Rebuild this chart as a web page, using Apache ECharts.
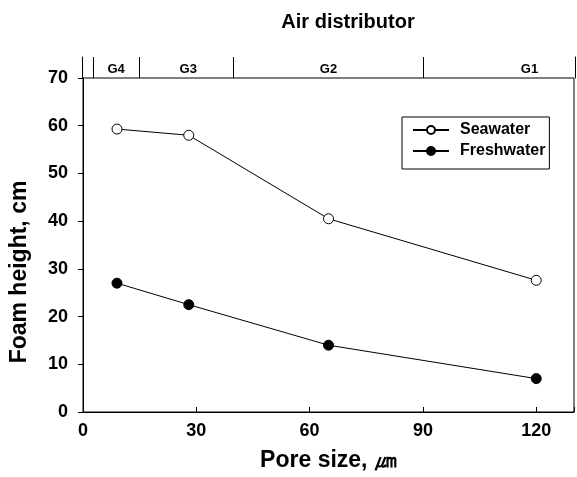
<!DOCTYPE html>
<html>
<head>
<meta charset="utf-8">
<script src="https://cdn.jsdelivr.net/npm/echarts@6/dist/echarts.min.js"></script>
<style>html,body{margin:0;padding:0;background:#fff}#c{width:577px;height:477px}</style>
</head>
<body>
<div id="c"></div>
<script>
// ---- data ----
const poreSize = [9, 28, 65, 120];
const seawater = [59.3, 58.0, 40.5, 27.6];
const freshwater = [27.0, 22.5, 14.0, 7.0];
const gradeNames = ['G4', 'G3', 'G2', 'G1'];
const gradeLabelX = [9, 28, 65, 118];
const gradeBounds = [3, 15, 40, 90];

const FONT = 'Liberation Sans, Arial, sans-serif';
const chart = echarts.init(document.getElementById('c'));
const sw = poreSize.map((x, i) => [x, seawater[i]]);
const fw = poreSize.map((x, i) => [x, freshwater[i]]);
const grades = gradeNames.map((g, i) => [gradeLabelX[i], 0.5, g]);

chart.setOption({
  animation: false,
  backgroundColor: '#fff',
  title: {
    text: 'Air distributor',
    left: 343, top: 7, textAlign: 'center',
    textStyle: { fontFamily: FONT, fontSize: 20, fontWeight: 'bold', color: '#000' }
  },
  legend: {
    left: 402, top: 117, orient: 'vertical',
    padding: [5, 4, 10, 10], itemGap: 5, itemWidth: 36, itemHeight: 10,
    borderColor: '#000', borderWidth: 1,
    textStyle: { fontFamily: FONT, fontSize: 16, fontWeight: 'bold', color: '#000', padding: [0, 0, 0, 6] },
    data: ['Seawater', 'Freshwater']
  },
  grid: [
    { left: 82, right: 2, top: 78, bottom: 65, show: true, borderColor: '#000', borderWidth: 1 },
    { left: 82, right: 2, top: 57, height: 21 }
  ],
  xAxis: [
    {
      gridIndex: 0, type: 'value', min: 0, max: 130, interval: 30,
      name: 'Pore size, \u339B', nameLocation: 'middle', nameGap: 37,
      nameTextStyle: { fontFamily: FONT, fontSize: 23, fontWeight: 'bold', color: '#000' },
      axisLine: { lineStyle: { color: '#000', width: 1 } },
      axisTick: { inside: true, length: 5, lineStyle: { color: '#000' } },
      axisLabel: { margin: 10, fontFamily: FONT, fontSize: 18, fontWeight: 'bold', color: '#000',
        formatter: v => (v % 30 === 0 ? String(v) : '') },
      splitLine: { show: false }
    },
    { gridIndex: 1, type: 'value', min: 0, max: 130, show: false }
  ],
  yAxis: [
    {
      gridIndex: 0, type: 'value', min: 0, max: 70, interval: 10,
      name: 'Foam height, cm', nameLocation: 'middle', nameGap: 52,
      nameTextStyle: { fontFamily: FONT, fontSize: 23, fontWeight: 'bold', color: '#000', padding: [0, 54, 0, 0] },
      axisLine: { lineStyle: { color: '#000', width: 1 } },
      axisTick: { inside: false, length: 5, lineStyle: { color: '#000' } },
      axisLabel: { margin: 15, fontFamily: FONT, fontSize: 18, fontWeight: 'bold', color: '#000' },
      splitLine: { show: false }
    },
    {
      gridIndex: 1, type: 'value', min: 0, max: 1, position: 'left',
      axisLine: { show: true, lineStyle: { color: '#000', width: 1 } },
      axisTick: { show: false }, axisLabel: { show: false }, splitLine: { show: false }
    },
    {
      gridIndex: 1, type: 'value', min: 0, max: 1, position: 'right',
      axisLine: { show: true, lineStyle: { color: '#000', width: 1 } },
      axisTick: { show: false }, axisLabel: { show: false }, splitLine: { show: false }
    }
  ],
  series: [
    {
      name: 'Seawater', type: 'line', xAxisIndex: 0, yAxisIndex: 0, data: sw,
      symbol: 'circle', symbolSize: 10,
      lineStyle: { color: '#000', width: 1 },
      itemStyle: { color: '#fff', borderColor: '#000', borderWidth: 1 }
    },
    {
      name: 'Freshwater', type: 'line', xAxisIndex: 0, yAxisIndex: 0, data: fw,
      symbol: 'circle', symbolSize: 10,
      lineStyle: { color: '#000', width: 1 },
      itemStyle: { color: '#000', borderColor: '#000', borderWidth: 1 }
    },
    {
      name: 'grades', type: 'scatter', xAxisIndex: 1, yAxisIndex: 1, data: grades,
      symbolSize: 1, itemStyle: { color: 'rgba(0,0,0,0)' },
      label: { show: true, position: 'inside', formatter: p => p.value[2],
        fontFamily: FONT, fontSize: 13, fontWeight: 'bold', color: '#000',
        textBorderWidth: 0, opacity: 1, offset: [0, 2] },
      markLine: {
        silent: true, symbol: 'none', label: { show: false },
        lineStyle: { color: '#000', width: 1, type: 'solid' },
        data: gradeBounds.map(b => ({ xAxis: b }))
      }
    }
  ]
});
</script>
</body>
</html>
